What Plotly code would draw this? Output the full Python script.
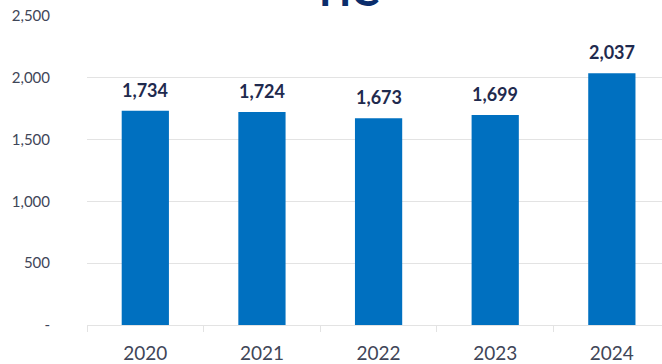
import plotly.graph_objects as go

# Headcount by year
years = ["2020", "2021", "2022", "2023", "2024"]
headcount = [1734, 1724, 1673, 1699, 2037]
y_tick_values = [0, 500, 1000, 1500, 2000, 2500]
y_tick_labels = ["-", "500", "1,000", "1,500", "2,000", "2,500"]

BAR_BLUE = "#0070C0"
NAVY = "#1F2A4E"
AXIS_TEXT = "#3F4658"
GRID = "#E3E3E3"
FONT = "Lato, 'Open Sans', Arial, sans-serif"

fig = go.Figure(
    go.Bar(
        x=years,
        y=headcount,
        marker=dict(color=BAR_BLUE, line=dict(width=0)),
        width=0.405,
        hoverinfo="x+y",
    )
)

# Value labels above each bar (category positions given by index)
for i, v in enumerate(headcount):
    fig.add_annotation(
        x=i, y=v, xref="x", yref="y",
        text=f"<b>{v:,}</b>", showarrow=False,
        yanchor="bottom", yshift=8,
        font=dict(family=FONT, size=18, color=NAVY),
    )

# Title (large, running off the top edge)
fig.add_annotation(
    x=(349 - 87) / 575, y=1, xref="paper", yref="paper",
    text="<b>HC</b>", showarrow=False,
    xanchor="center", yanchor="bottom", yshift=-1,
    font=dict(family=FONT, size=42, color="#0B2D6B"),
)

fig.update_layout(
    width=662, height=364,
    margin=dict(l=87, r=0, t=16, b=39, pad=0),
    paper_bgcolor="white", plot_bgcolor="white",
    showlegend=False,
    font=dict(family=FONT, size=15, color=AXIS_TEXT),
    xaxis=dict(
        type="category",
        range=[-0.5, 4.43],
        showgrid=False,
        showline=True, linecolor=GRID, linewidth=1,
        ticks="outside", tickson="boundaries", ticklen=6, tickcolor=GRID,
        tickfont=dict(size=19, color=AXIS_TEXT),
        ticklabelstandoff=11,
    ),
    yaxis=dict(
        range=[0, 2500],
        tickvals=y_tick_values, ticktext=y_tick_labels,
        showgrid=True, gridcolor=GRID, gridwidth=1,
        zeroline=False, showline=False,
        ticks="", ticklabelstandoff=36,
        tickfont=dict(size=15, color=AXIS_TEXT),
    ),
)

fig.write_html("out.html")
